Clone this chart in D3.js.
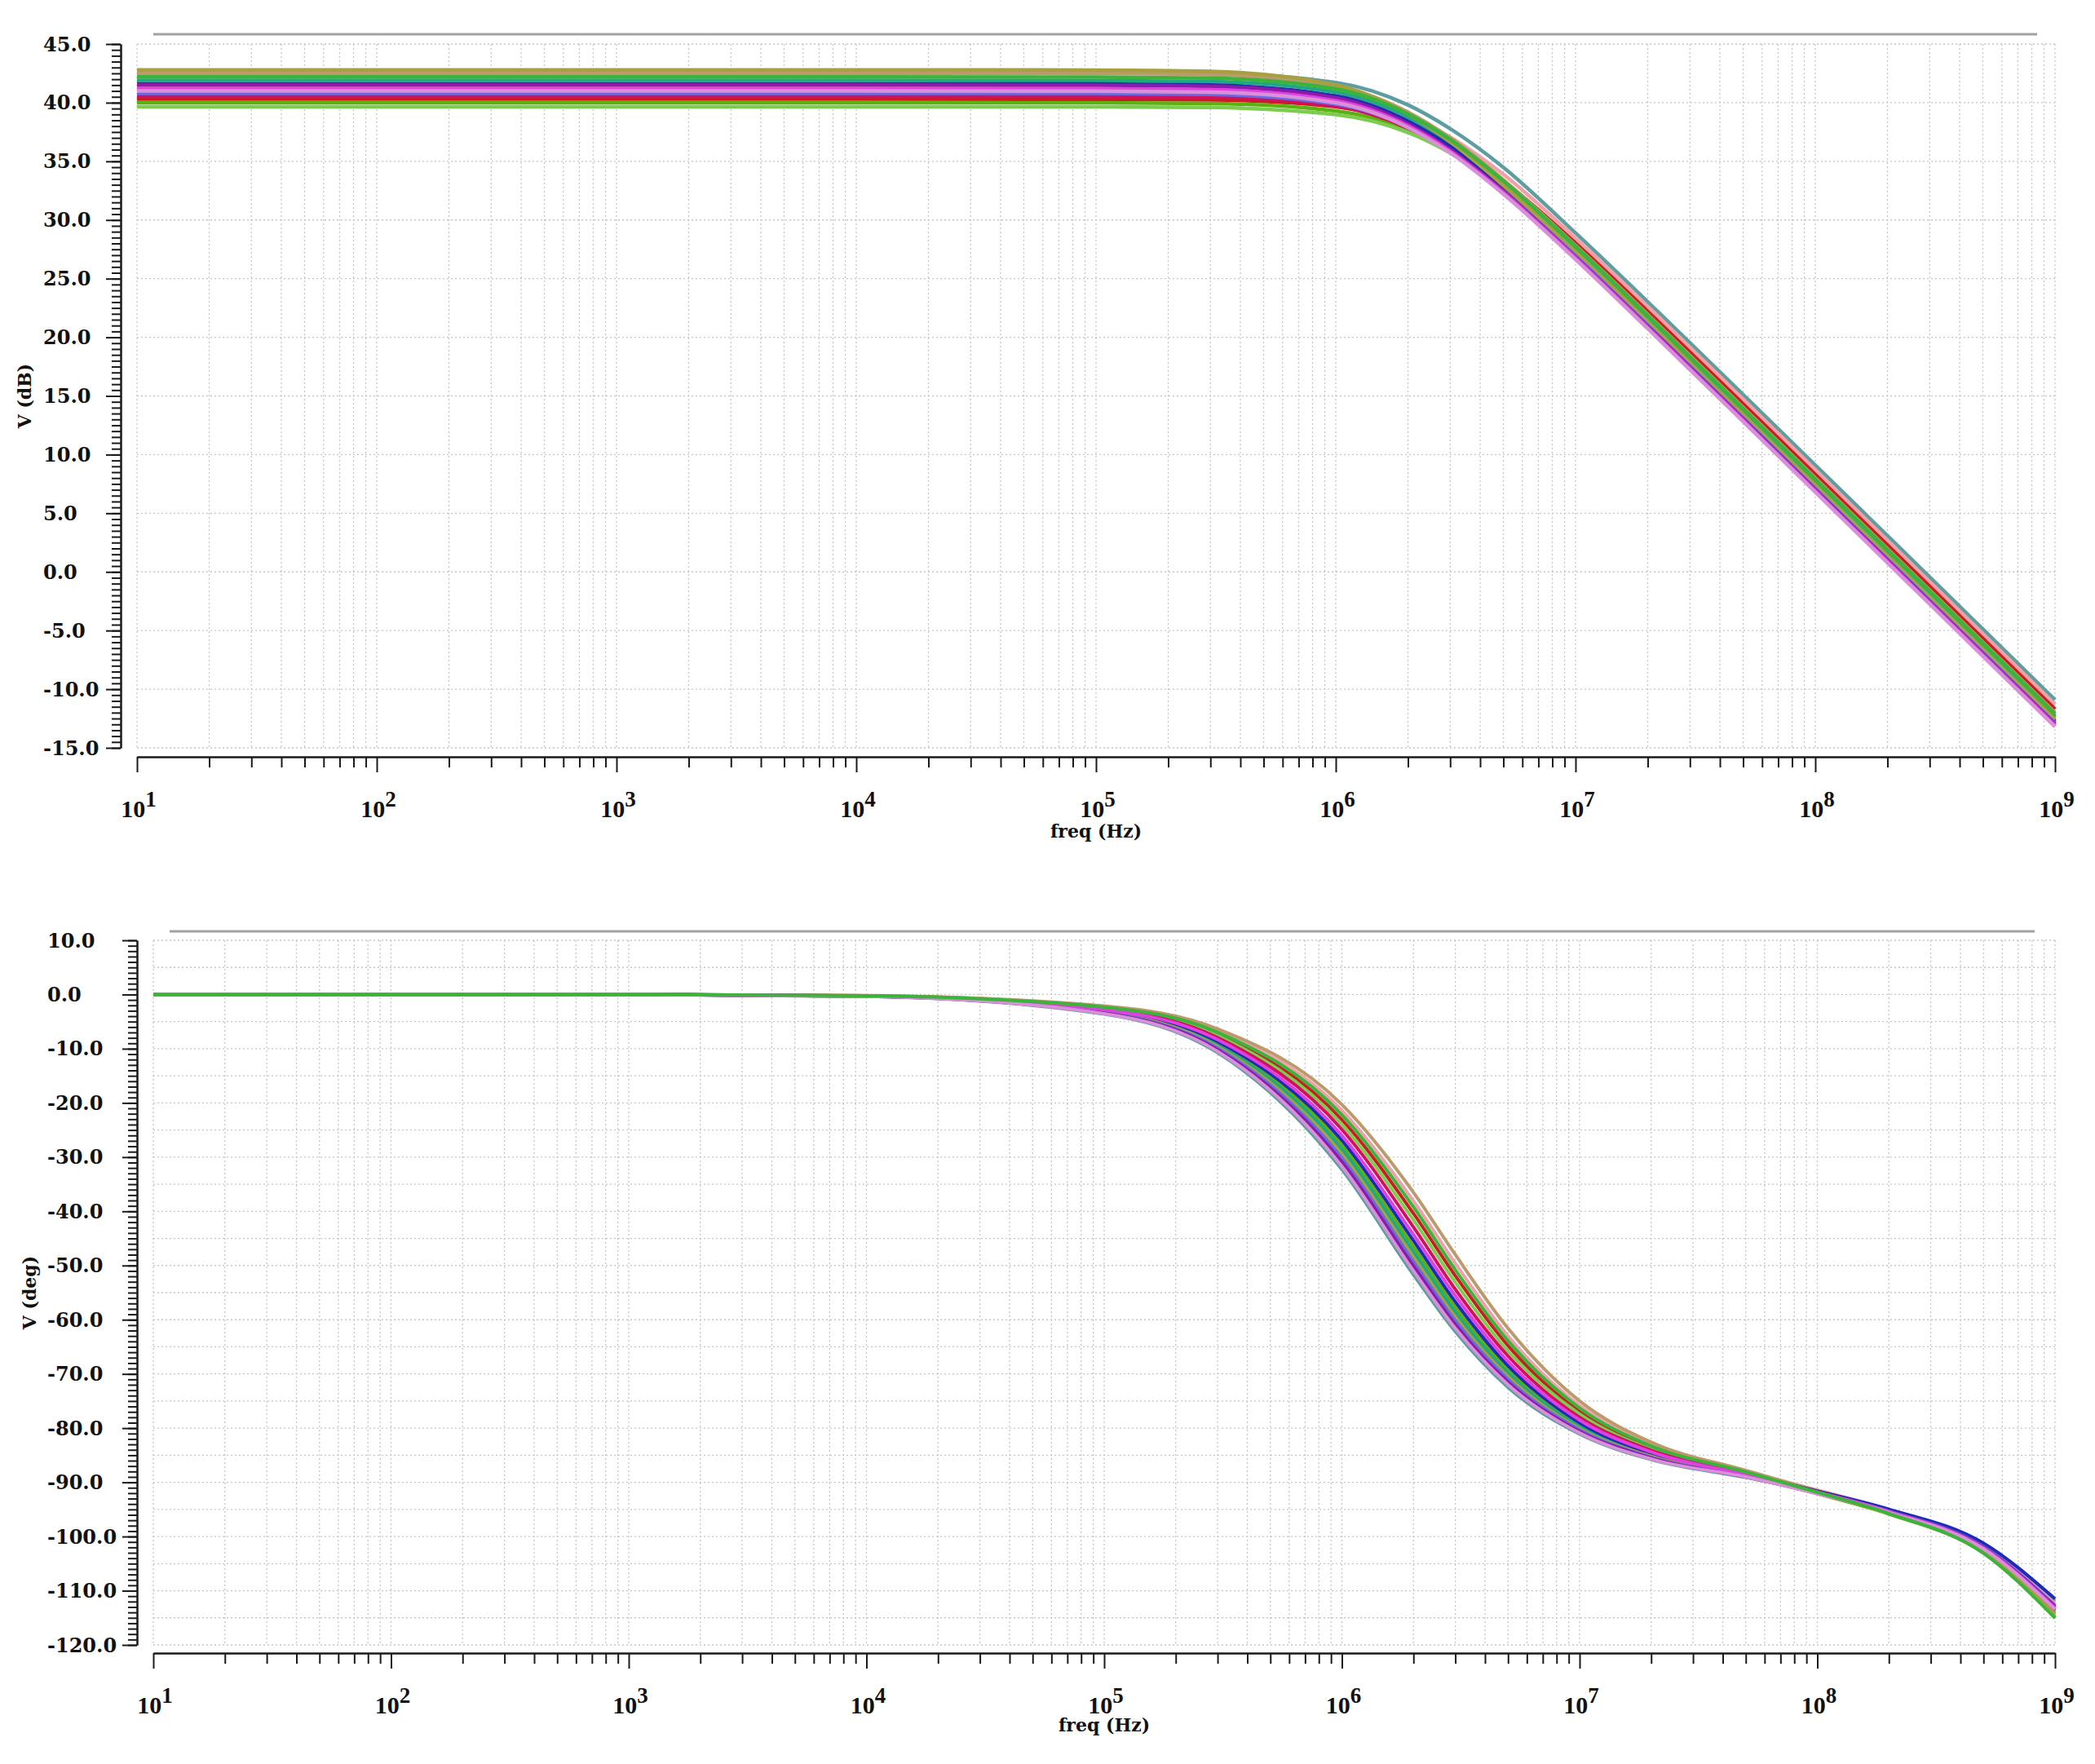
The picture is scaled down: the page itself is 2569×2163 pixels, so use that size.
<!DOCTYPE html>
<html>
<head>
<meta charset="utf-8">
<style>
  body { margin: 0; background: #fff; }
  svg { display: block; background: #fff; }
  .tick-label { font-family: "DejaVu Serif", serif; font-weight: bold; font-size: 24px; fill: #111; }
  .dec-label { font-family: "Liberation Serif", serif; font-weight: bold; font-size: 30px; fill: #111; }
  .axis-title { font-family: "DejaVu Serif", serif; font-weight: bold; font-size: 22px; fill: #111; }
  .grid line { stroke: #c6c6c6; stroke-width: 1.3; stroke-dasharray: 2,3; }
  .axis path, .axis line { stroke: #1a1a1a; stroke-width: 2; fill: none; }
</style>
</head>
<body>
<svg id="svg"></svg>
<script src="https://cdn.jsdelivr.net/npm/d3@7"></script>
<script>
  // sweep frequencies (Hz) shared by every run
  var freqHz = [1e1, 1e3, 1e4, 1e5, 3e5, 1e6, 2e6, 3e6, 5e6, 1e7, 2e7, 5e7, 1e8, 2e8, 5e8, 1e9];

  var runColors = ["#5f9ea0", "#f0a0a8", "#c81e1e", "#bc9a6c", "#5cb010", "#7ccc50", "#20a880",
    "#1c2cb8", "#d2105c", "#a8a040", "#6a6ae0", "#8c1ca8", "#e040e0", "#d890d8", "#3cb43c"];

  // gain (dB), one row per run
  var magDb = [
    [42.6, 42.6, 42.6, 42.59, 42.51, 41.72, 39.81, 37.78, 34.49, 28.89, 23.03, 15.12, 9.10, 3.08, -4.88, -10.90],
    [41.3, 41.3, 41.3, 41.29, 41.23, 40.57, 38.91, 37.07, 33.89, 28.45, 22.62, 14.72, 8.70, 2.68, -5.28, -11.30],
    [40.3, 40.3, 40.3, 40.29, 40.24, 39.66, 38.16, 36.45, 33.34, 28.03, 22.21, 14.32, 8.30, 2.28, -5.68, -11.70],
    [42.5, 42.5, 42.5, 42.49, 42.39, 41.41, 39.20, 37.00, 33.43, 27.83, 21.94, 14.02, 8.00, 1.98, -5.98, -12.00],
    [40.0, 40.0, 40.0, 39.99, 39.93, 39.30, 37.71, 35.91, 32.72, 27.36, 21.52, 13.62, 7.60, 1.58, -6.38, -12.40],
    [39.65, 39.65, 39.65, 39.64, 39.59, 38.99, 37.46, 35.71, 32.57, 27.24, 21.41, 13.52, 7.50, 1.48, -6.48, -12.50],
    [41.9, 41.9, 41.9, 41.89, 41.80, 40.89, 38.78, 36.63, 33.11, 27.54, 21.64, 13.72, 7.70, 1.68, -6.28, -12.30],
    [41.6, 41.6, 41.6, 41.59, 41.50, 40.57, 38.43, 36.27, 32.73, 27.16, 21.24, 13.32, 7.30, 1.28, -6.68, -12.70],
    [40.55, 40.55, 40.55, 40.54, 40.47, 39.70, 37.84, 35.86, 32.48, 27.01, 21.13, 13.22, 7.20, 1.18, -6.78, -12.80],
    [42.8, 42.8, 42.8, 42.78, 42.67, 41.51, 39.03, 36.66, 32.95, 27.29, 21.35, 13.42, 7.40, 1.38, -6.58, -12.60],
    [40.8, 40.8, 40.8, 40.79, 40.71, 39.89, 37.94, 35.89, 32.46, 26.94, 21.03, 13.12, 7.10, 1.08, -6.88, -12.90],
    [41.5, 41.5, 41.5, 41.49, 41.39, 40.41, 38.20, 36.00, 32.43, 26.83, 20.94, 13.02, 7.00, 0.98, -6.98, -13.00],
    [41.2, 41.2, 41.2, 41.19, 41.10, 40.17, 38.03, 35.87, 32.33, 26.76, 20.84, 12.92, 6.90, 0.88, -7.08, -13.10],
    [41.0, 41.0, 41.0, 40.99, 40.90, 39.99, 37.88, 35.73, 32.21, 26.64, 20.74, 12.82, 6.80, 0.78, -7.18, -13.20],
    [42.2, 42.2, 42.2, 42.19, 42.10, 41.17, 39.03, 36.87, 33.33, 27.76, 21.84, 13.92, 7.90, 1.88, -6.08, -12.10]
  ];

  // phase (deg), one row per run
  var phaseDeg = [
    [0, 0, -0.36, -3.62, -10.75, -32.3, -51.7, -62.2, -72.5, -81.1, -85.8, -89.1, -91.91, -95.18, -101.48, -111.91],
    [0, 0, -0.22, -2.25, -6.71, -21.4, -38.1, -49.6, -63.0, -75.8, -83.0, -88.0, -91.42, -95.03, -101.64, -112.35],
    [0, 0, -0.24, -2.44, -7.28, -23.1, -40.4, -51.9, -64.8, -76.9, -83.6, -88.2, -91.62, -95.27, -102.03, -113.07],
    [0, 0, -0.21, -2.12, -6.34, -20.3, -36.5, -48.0, -61.6, -75.0, -82.6, -87.8, -91.55, -95.43, -102.52, -114.05],
    [0, 0, -0.30, -3.01, -8.97, -27.8, -46.5, -57.7, -69.2, -79.3, -84.9, -88.7, -92.11, -95.86, -103.03, -114.89],
    [0, 0, -0.25, -2.54, -7.59, -24.0, -41.6, -53.1, -65.8, -77.4, -83.9, -88.3, -91.88, -95.71, -102.88, -114.67],
    [0, 0, -0.31, -3.13, -9.31, -28.6, -47.5, -58.6, -69.9, -79.7, -85.1, -88.8, -92.00, -95.57, -102.40, -113.70],
    [0, 0, -0.29, -2.91, -8.66, -26.9, -45.4, -56.7, -68.5, -79.0, -84.7, -88.6, -91.63, -94.97, -101.22, -111.49],
    [0, 0, -0.27, -2.66, -7.94, -24.9, -42.9, -54.4, -66.7, -78.0, -84.1, -88.4, -91.79, -95.42, -102.26, -113.48],
    [0, 0, -0.32, -3.23, -9.62, -29.5, -48.5, -59.5, -70.5, -80.1, -85.2, -88.9, -92.11, -95.74, -102.73, -114.30],
    [0, 0, -0.33, -3.33, -9.89, -30.2, -49.3, -60.2, -71.0, -80.3, -85.4, -88.9, -91.93, -95.35, -101.88, -112.70],
    [0, 0, -0.34, -3.43, -10.18, -30.9, -50.1, -60.9, -71.5, -80.6, -85.5, -89.0, -91.98, -95.41, -102.00, -112.90],
    [0, 0, -0.28, -2.79, -8.33, -26.0, -44.3, -55.6, -67.7, -78.5, -84.4, -88.6, -91.81, -95.37, -102.12, -113.18],
    [0, 0, -0.35, -3.53, -10.49, -31.7, -51.0, -61.6, -72.0, -80.9, -85.7, -89.0, -92.08, -95.56, -102.27, -113.41],
    [0, 0, -0.23, -2.34, -6.98, -22.2, -39.2, -50.8, -63.9, -76.3, -83.3, -88.1, -91.83, -95.75, -103.08, -115.06]
  ];

  var decadeExp = [1, 2, 3, 4, 5, 6, 7, 8, 9];
  var dbTicks = d3.range(-15, 45.001, 5);
  var degTicks = d3.range(-120, 10.001, 10);

  var width = 2569, height = 2163;
  var svg = d3.select("#svg").attr("width", width).attr("height", height);

  // minor log positions 2..9 for each decade
  var minorFreqs = [];
  decadeExp.slice(0, -1).forEach(function (e) {
    for (var k = 2; k <= 9; k++) minorFreqs.push(k * Math.pow(10, e));
  });
  var decadeFreqs = decadeExp.map(function (e) { return Math.pow(10, e); });

  function drawPanel(p) {
    var x = d3.scaleLog().domain([1e1, 1e9]).range([p.left, p.right]);
    var y = d3.scaleLinear().domain(p.yDomain).range([p.bottom, p.top]);
    var g = svg.append("g");

    // grey bar above plot
    g.append("line")
      .attr("x1", p.barX0).attr("x2", p.barX1)
      .attr("y1", p.barY).attr("y2", p.barY)
      .attr("stroke", "#a2a2a6").attr("stroke-width", 3);

    // grid
    var grid = g.append("g").attr("class", "grid");
    grid.selectAll("line.v").data(decadeFreqs.concat(minorFreqs)).enter().append("line")
      .attr("x1", function (d) { return x(d); }).attr("x2", function (d) { return x(d); })
      .attr("y1", p.top).attr("y2", p.bottom);
    grid.selectAll("line.h").data(d3.range(p.yDomain[0], p.yDomain[1] + 0.001, p.gridStep)).enter().append("line")
      .attr("x1", p.left).attr("x2", p.right)
      .attr("y1", function (d) { return y(d); }).attr("y2", function (d) { return y(d); });

    // curves
    var line = d3.line()
      .x(function (d) { return x(d[0]); })
      .y(function (d) { return y(d[1]); })
      .curve(d3.curveMonotoneX);
    g.append("g").selectAll("path").data(p.series).enter().append("path")
      .attr("d", function (vals) { return line(vals.map(function (v, i) { return [freqHz[i], v]; })); })
      .attr("fill", "none")
      .attr("stroke", function (d, i) { return runColors[i]; })
      .attr("stroke-width", p.lineWidth);

    // x axis
    g.append("g").attr("class", "axis").attr("transform", "translate(0," + p.xAxisY + ")")
      .call(d3.axisBottom(x).tickValues(minorFreqs).tickSize(13).tickSizeOuter(0).tickFormat(""));
    g.append("g").attr("class", "axis").attr("transform", "translate(0," + p.xAxisY + ")")
      .call(d3.axisBottom(x).tickValues(decadeFreqs).tickSize(19).tickSizeOuter(0).tickFormat(""));
    var dl = g.selectAll("text.dec").data(decadeExp).enter().append("text")
      .attr("class", "dec-label")
      .attr("x", function (e) { return x(Math.pow(10, e)) + 2; })
      .attr("y", p.decLabelY)
      .attr("text-anchor", "middle")
      .text("10");
    dl.append("tspan").attr("dy", -13).style("font-size", "27px").text(function (e) { return e; });

    // y axis
    g.append("g").attr("class", "axis").attr("transform", "translate(" + p.yAxisX + ",0)")
      .call(d3.axisLeft(y).tickValues(d3.range(p.yDomain[0], p.yDomain[1] + 0.001, p.yMinorStep))
        .tickSize(11).tickSizeOuter(0).tickFormat(""));
    g.append("g").attr("class", "axis").attr("transform", "translate(" + p.yAxisX + ",0)")
      .call(d3.axisLeft(y).tickValues(p.yTicks).tickSize(18).tickSizeOuter(0).tickFormat(""));
    g.selectAll("text.yl").data(p.yTicks).enter().append("text")
      .attr("class", "tick-label")
      .attr("x", p.tickLabelX)
      .attr("y", function (d) { return y(d) + 8.5; })
      .text(function (d) { return d.toFixed(1); });

    // titles
    g.append("text").attr("class", "axis-title")
      .attr("x", (p.left + p.right) / 2).attr("y", p.xTitleY)
      .attr("text-anchor", "middle").text("freq (Hz)");
    g.append("text").attr("class", "axis-title")
      .attr("transform", "translate(" + p.yTitleX + "," + (p.top + p.bottom) / 2 + ") rotate(-90)")
      .attr("text-anchor", "middle").attr("dominant-baseline", "central")
      .text(p.yTitle);
  }

  drawPanel({
    series: magDb, yTicks: dbTicks, yTitle: "V (dB)",
    left: 168, right: 2520, top: 54, bottom: 917,
    yAxisX: 148, xAxisY: 928, yDomain: [-15, 45], yMinorStep: 0.5, gridStep: 5,
    tickLabelX: 53, decLabelY: 1002, xTitleY: 1027, yTitleX: 30,
    barY: 42, barX0: 188, barX1: 2498, lineWidth: 4.5
  });

  drawPanel({
    series: phaseDeg, yTicks: degTicks, yTitle: "V (deg)",
    left: 188, right: 2520, top: 1153, bottom: 2017,
    yAxisX: 168, xAxisY: 2027, yDomain: [-120, 10], yMinorStep: 1, gridStep: 5,
    tickLabelX: 58, decLabelY: 2101, xTitleY: 2123, yTitleX: 36,
    barY: 1142, barX0: 208, barX1: 2495, lineWidth: 4
  });
</script>
</body>
</html>
